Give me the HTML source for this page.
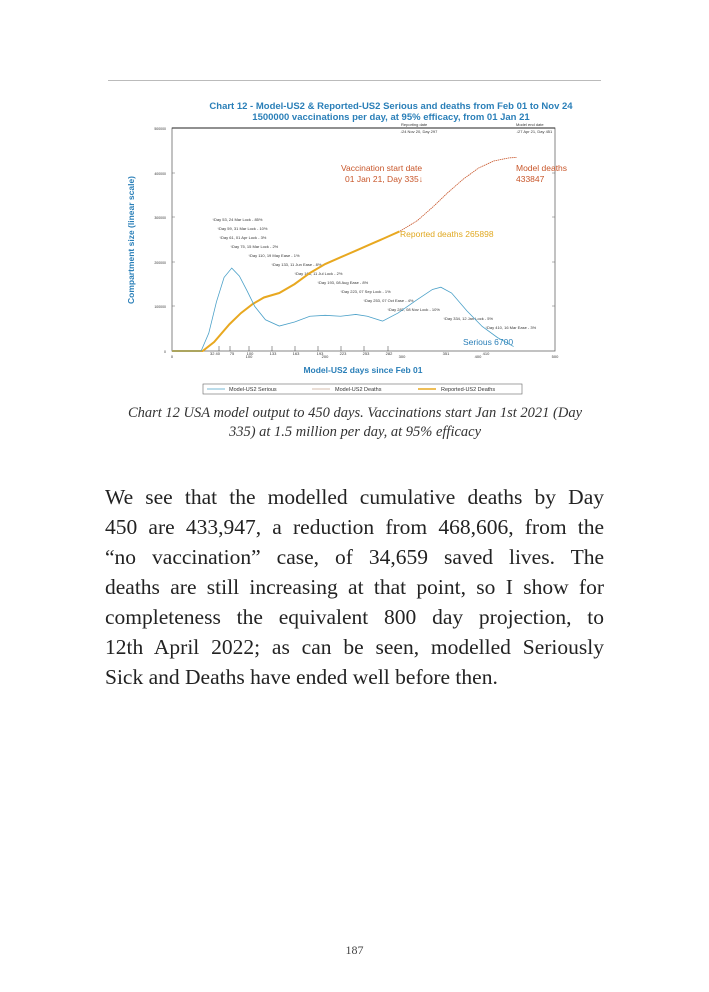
<!DOCTYPE html>
<html><head><meta charset="utf-8"><style>
html,body{margin:0;padding:0;background:#fff}
body{width:709px;height:992px;position:relative;overflow:hidden;font-family:"Liberation Serif",serif}
.rule{position:absolute;left:108px;top:80px;width:493px;height:1px;background:#bbb}
.cap{position:absolute;left:110px;width:490px;top:404px;text-align:center;font-style:italic;font-size:14.5px;line-height:19px;color:#333}
.para{position:absolute;left:105px;width:499px;top:482px;font-size:21.5px;line-height:30px;color:#222}
.para div{text-align:justify;text-align-last:justify;white-space:nowrap}
.para div.last{text-align-last:left}
.pn{position:absolute;left:0;width:709px;top:943px;text-align:center;font-size:12px;color:#444}
svg text{font-family:"Liberation Sans",sans-serif}
</style></head><body>
<div class="rule"></div>
<svg width="709" height="400" style="position:absolute;left:0;top:0">
<text x="391" y="109" text-anchor="middle" font-size="9.5" font-weight="bold" fill="#2a7fb8">Chart 12 - Model-US2 &amp; Reported-US2 Serious and deaths from Feb 01 to Nov 24</text>
<text x="391" y="120" text-anchor="middle" font-size="9.5" font-weight="bold" fill="#2a7fb8">1500000 vaccinations per day, at 95% efficacy, from 01 Jan 21</text>
<rect x="172" y="128" width="383" height="223" fill="none" stroke="#666" stroke-width="0.8"/>
<line x1="172" y1="128" x2="555" y2="128" stroke="#222" stroke-width="1"/>
<g font-size="3.5" fill="#333" text-anchor="end">
<text x="166" y="130">500000</text><text x="166" y="175">400000</text><text x="166" y="219">300000</text><text x="166" y="264">200000</text><text x="166" y="308">100000</text><text x="166" y="353">0</text>
</g>
<g stroke="#666" stroke-width="0.5">
<line x1="172" y1="173" x2="175" y2="173"/><line x1="172" y1="217" x2="175" y2="217"/><line x1="172" y1="262" x2="175" y2="262"/><line x1="172" y1="306" x2="175" y2="306"/>
<line x1="552" y1="173" x2="555" y2="173"/><line x1="552" y1="217" x2="555" y2="217"/><line x1="552" y1="262" x2="555" y2="262"/><line x1="552" y1="306" x2="555" y2="306"/>
</g>
<text transform="translate(134,240) rotate(-90)" text-anchor="middle" font-size="8.5" font-weight="bold" fill="#2a7fb8">Compartment size (linear scale)</text>
<text x="363" y="373" text-anchor="middle" font-size="8.5" font-weight="bold" fill="#2a7fb8">Model-US2 days since Feb 01</text>
<g font-size="4" fill="#333" text-anchor="middle">
<text x="172" y="358">0</text><text x="249" y="358">100</text><text x="325" y="358">200</text><text x="402" y="358">300</text><text x="478" y="358">400</text><text x="555" y="358">500</text>
<text x="215" y="355">32 40</text><text x="232" y="355">75</text><text x="250" y="355">100</text><text x="273" y="355">133</text><text x="296" y="355">163</text><text x="320" y="355">193</text><text x="343" y="355">223</text><text x="366" y="355">253</text><text x="389" y="355">282</text><text x="446" y="355">351</text><text x="486" y="355">410</text>
</g>
<g stroke="#333" stroke-width="0.5">
<line x1="219" y1="346" x2="219" y2="351"/><line x1="230" y1="346" x2="230" y2="351"/><line x1="249" y1="346" x2="249" y2="351"/><line x1="272" y1="346" x2="272" y2="351"/><line x1="295" y1="346" x2="295" y2="351"/><line x1="318" y1="346" x2="318" y2="351"/><line x1="341" y1="346" x2="341" y2="351"/><line x1="364" y1="346" x2="364" y2="351"/><line x1="388" y1="346" x2="388" y2="351"/>
</g>
<g font-size="4" fill="#333">
<text x="212" y="221">↑Day 53, 24 Mar Lock - 85%</text>
<text x="217" y="230">↑Day 59, 31 Mar Lock - 10%</text>
<text x="219" y="239">↑Day 61, 01 Apr Lock - 3%</text>
<text x="230" y="248">↑Day 75, 15 Mar Lock - 2%</text>
<text x="248" y="257">↑Day 110, 19 May Ease - 1%</text>
<text x="271" y="266">↑Day 133, 11 Jun Ease - 8%</text>
<text x="294" y="275">↑Day 163, 11 Jul Lock - 2%</text>
<text x="317" y="284">↑Day 193, 08 Aug Ease - 8%</text>
<text x="340" y="293">↑Day 223, 07 Sep Lock - 1%</text>
<text x="363" y="302">↑Day 253, 07 Oct Ease - 4%</text>
<text x="387" y="311">↑Day 282, 08 Nov Lock - 10%</text>
<text x="443" y="320">↑Day 334, 12 Jan Lock - 5%</text>
<text x="485" y="329">↑Day 410, 16 Mar Ease - 3%</text>
<text x="401" y="126">Reporting date</text>
<text x="400" y="133">↓24 Nov 20, Day 297</text>
<text x="516" y="126">Model end date</text>
<text x="516" y="133">↓27 Apr 21, Day 451</text>
</g>
<g font-size="8.5" fill="#c8562a">
<text x="341" y="171">Vaccination start date</text>
<text x="345" y="182">01 Jan 21, Day 335↓</text>
<text x="516" y="171">Model deaths</text>
<text x="516" y="182">433847</text>
</g>
<text x="400" y="237" font-size="8.5" fill="#e0a820">Reported deaths 265898</text>
<text x="463" y="345" font-size="8.5" fill="#2a7fb8">Serious 6700</text>
<g transform="translate(172,351) scale(0.766,-0.000446)" fill="none">
<polyline vector-effect="non-scaling-stroke" stroke="#c8562a" stroke-width="0.8" stroke-dasharray="1.5,0.6" points="0,0 40,0 55,20000 75,60000 90,85000 105,105000 120,120000 140,130000 160,150000 180,175000 200,195000 220,210000 240,225000 260,240000 280,255000 297,268000 320,292000 340,322000 360,355000 380,385000 400,410000 420,426000 440,433000 450,434000"/>
<polyline vector-effect="non-scaling-stroke" stroke="#e8a820" stroke-width="2" points="0,0 40,0 55,20000 75,60000 90,85000 105,105000 120,120000 140,130000 160,150000 180,175000 200,195000 220,210000 240,225000 260,240000 280,255000 297,268000"/>
<polyline vector-effect="non-scaling-stroke" stroke="#4aa0c8" stroke-width="0.8" points="0,0 38,0 48,40000 58,110000 68,165000 78,186000 88,168000 98,135000 108,100000 122,70000 140,56000 160,65000 180,78000 200,80000 220,78000 240,82000 255,78000 275,67000 295,85000 320,115000 340,138000 351,143000 365,130000 385,90000 405,55000 425,30000 446,10000"/>
</g>
<rect x="203" y="384" width="319" height="10" fill="#fff" stroke="#666" stroke-width="0.6"/>
<g font-size="5.5" fill="#333">
<line x1="207" y1="389" x2="225" y2="389" stroke="#4aa0c8" stroke-width="0.8"/><text x="229" y="391">Model-US2 Serious</text>
<line x1="312" y1="389" x2="330" y2="389" stroke="#c8a890" stroke-width="0.8"/><text x="335" y="391">Model-US2 Deaths</text>
<line x1="418" y1="389" x2="436" y2="389" stroke="#e8a820" stroke-width="1.5"/><text x="441" y="391">Reported-US2 Deaths</text>
</g>
</svg>
<div class="cap">Chart 12 USA model output to 450 days. Vaccinations start Jan 1st 2021 (Day<br>335) at 1.5 million per day, at 95% efficacy</div>
<div class="para">
<div>We see that the modelled cumulative deaths by Day</div>
<div>450 are 433,947, a reduction from 468,606, from the</div>
<div>“no vaccination” case, of 34,659 saved lives. The</div>
<div>deaths are still increasing at that point, so I show for</div>
<div>completeness the equivalent 800 day projection, to</div>
<div>12th April 2022; as can be seen, modelled Seriously</div>
<div class="last">Sick and Deaths have ended well before then.</div>
</div>
<div class="pn">187</div>
</body></html>
